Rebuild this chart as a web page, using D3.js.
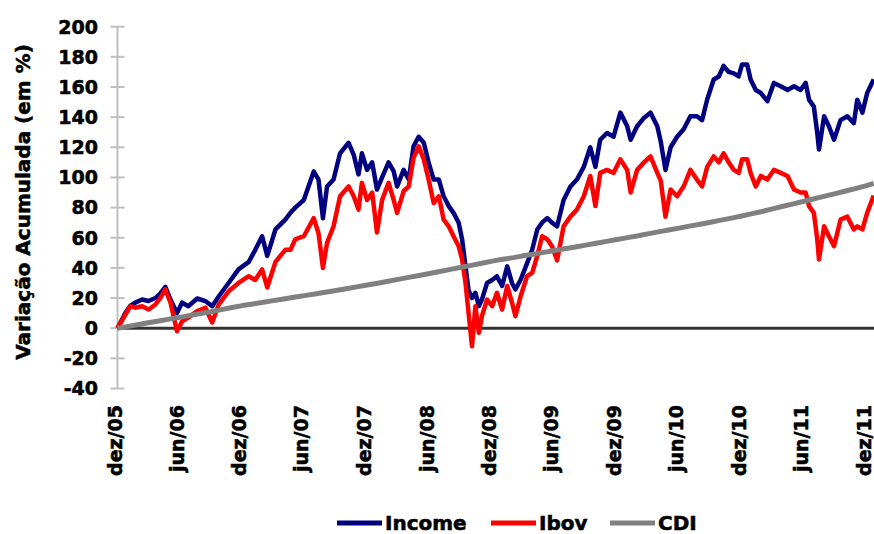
<!DOCTYPE html>
<html>
<head>
<meta charset="utf-8">
<script src="https://cdn.jsdelivr.net/npm/d3@7"></script>
<style>
  body { margin: 0; background: #fff; }
  svg text { font-family: "DejaVu Sans", Verdana, sans-serif; font-weight: bold; fill: #000; stroke: #000; stroke-width: 0.55px; }
</style>
</head>
<body>
<div id="chart"></div>
<script>
// datas das observações (Income e Ibov)
var datas = [
  "2005-12-01","2005-12-24","2006-01-08","2006-01-22","2006-02-11","2006-03-02","2006-03-22","2006-04-05",
  "2006-04-20","2006-05-05","2006-05-24","2006-06-08","2006-06-26","2006-07-22","2006-08-15","2006-09-04",
  "2006-09-23","2006-10-22","2006-11-20","2006-12-20","2007-01-08","2007-01-28","2007-02-12","2007-03-08",
  "2007-04-06","2007-04-21","2007-05-05","2007-05-30","2007-06-28","2007-07-12","2007-07-25","2007-08-06",
  "2007-08-25","2007-09-13","2007-10-08","2007-10-23","2007-11-06","2007-11-16","2007-12-01","2007-12-16",
  "2007-12-30","2008-01-14","2008-02-02","2008-02-17","2008-02-27","2008-03-17","2008-04-01","2008-04-15",
  "2008-04-30","2008-05-15","2008-05-29","2008-06-13","2008-06-28","2008-07-12","2008-07-27","2008-08-10",
  "2008-08-25","2008-09-04","2008-09-14","2008-09-23","2008-10-03","2008-10-13","2008-10-23","2008-11-01",
  "2008-11-16","2008-12-01","2008-12-15","2008-12-30","2009-01-14","2009-01-28","2009-02-07","2009-02-22",
  "2009-03-13","2009-03-28","2009-04-12","2009-04-26","2009-05-11","2009-05-25","2009-06-09","2009-06-28",
  "2009-07-18","2009-08-06","2009-08-26","2009-09-14","2009-09-29","2009-10-13","2009-11-02","2009-11-21",
  "2009-12-11","2009-12-31","2010-01-10","2010-01-29","2010-02-18","2010-03-09","2010-03-29","2010-04-08",
  "2010-04-22","2010-05-07","2010-05-26","2010-06-14","2010-07-04","2010-07-23","2010-08-07","2010-08-22",
  "2010-09-10","2010-09-25","2010-10-09","2010-10-24","2010-11-08","2010-11-22","2010-12-02","2010-12-17",
  "2010-12-27","2011-01-11","2011-01-26","2011-02-14","2011-03-05","2011-03-25","2011-04-14","2011-05-03",
  "2011-05-22","2011-06-06","2011-06-16","2011-06-30","2011-07-10","2011-07-15","2011-07-30","2011-08-13",
  "2011-08-28","2011-09-16","2011-10-06","2011-10-25","2011-11-04","2011-11-19","2011-12-03","2011-12-22"
];

var income = [
  0, 10, 15, 17, 19, 18, 20, 23,
  27.4, 19, 10, 17, 14.6, 19.7, 18, 14.6,
  21, 30, 39, 44, 52, 61, 48, 65.5,
  72, 76.6, 80, 85, 104, 98.6, 73, 94,
  98.6, 116, 123, 115, 102, 116, 105, 110,
  92, 100, 110, 104, 94, 105, 98.6, 120.7,
  127, 123, 110, 98.6, 98.6, 87.5, 81, 76.5,
  70, 59, 41, 25, 20, 23.5, 14.6, 19,
  30, 32, 34.5, 28, 41, 30, 25.7, 32,
  43, 52, 65.5, 70, 73, 70, 67.6, 85,
  94, 98.6, 107, 120, 107, 125, 129.5, 127,
  143, 134, 125, 134, 139.5, 143, 134, 124,
  105, 120, 127, 132, 140.6, 140.6, 138, 151.7,
  165, 167, 174, 170, 169, 167, 175, 175,
  165, 158, 156, 150.6, 162.7, 160.5, 158, 160.5,
  158, 162.7, 151.6, 147, 129.5, 118.5, 140.6, 134,
  125, 138, 140.6, 136, 151.6, 143, 156, 165
];

var ibov = [
  0, 9, 14.6, 13.6, 14.6, 12.4, 15.7, 20,
  25.7, 17, -2, 4.6, 7, 11.3, 13.6, 3.8,
  15.7, 24.5, 30, 34.5, 32, 39, 27, 44,
  52, 52, 59, 61, 73, 63, 40, 56.6,
  67.6, 87.5, 94, 87.5, 78.7, 96.4, 85, 90,
  63.5, 85, 96.4, 85, 76.5, 91, 94, 113,
  120.7, 112, 98.6, 83, 87.5, 72, 67.6, 61,
  54.4, 45.6, 30, 10, -12, 14.6, -3, 8,
  19, 14.6, 23.5, 12.4, 28, 17, 8, 21,
  34.5, 36.7, 48, 61, 59, 54.4, 45, 67.6,
  74, 78.7, 87.5, 101, 81, 103, 105, 103,
  112, 105, 90, 105, 110, 114, 103, 98,
  74, 92, 87.5, 94, 105, 98.6, 94, 107,
  114, 110, 116, 110, 105, 103, 112, 112,
  103, 94, 101, 98.6, 105, 103, 101, 92,
  90, 90, 81, 76.5, 59, 45.6, 67.6, 61,
  54.4, 72, 74, 65.5, 67.6, 65.5, 76.5, 88
];

// CDI: valor no início de cada mês, dez/05 .. dez/11, e último ponto
var cdi = [
  0, 1.2, 2.4, 3.6, 4.8, 6.0, 7.2, 8.5, 9.8, 11.0, 12.3, 13.7,
  15.0, 16.1, 17.2, 18.3, 19.4, 20.5, 21.6, 22.7, 23.9, 25.0, 26.2, 27.4,
  28.6, 29.8, 31.1, 32.4, 33.7, 35.0, 36.3, 37.6, 39.0, 40.4, 41.7, 43.1,
  44.5, 45.7, 46.8, 48.0, 49.1, 50.3, 51.5, 52.7, 53.9, 55.1, 56.4, 57.6,
  58.8, 60.1, 61.3, 62.6, 63.9, 65.1, 66.4, 67.7, 69.0, 70.3, 71.7, 73.0,
  74.4, 76.0, 77.6, 79.2, 80.9, 82.5, 84.2, 85.9, 87.6, 89.3, 91.0, 92.8,
  94.6, 96.0
];

var tickLabels = ["dez/05","jun/06","dez/06","jun/07","dez/07","jun/08","dez/08",
                  "jun/09","dez/09","jun/10","dez/10","jun/11","dez/11"];
var yTicks = [-40, -20, 0, 20, 40, 60, 80, 100, 120, 140, 160, 180, 200];

var series = [
  { name: "Income", color: "#000080", values: income },
  { name: "Ibov",   color: "#ff0000", values: ibov },
  { name: "CDI",    color: "#808080", values: cdi }
];

var W = 874, H = 534;
var parse = d3.timeParse("%Y-%m-%d");
var start = parse("2005-12-01");
var tickDates = tickLabels.map((l, i) => d3.timeMonth.offset(start, 6 * i));
var cdiDates = d3.timeMonth.range(start, d3.timeDay.offset(parse("2011-12-01"), 1)).concat([parse("2011-12-22")]);
var obsDates = datas.map(parse);

var x = d3.scaleTime()
    .domain([start, parse("2011-12-01")])
    .range([117.5, 866.5]);
var y = d3.scaleLinear()
    .domain([-40, 200])
    .range([388.5, 26.7]);

var svg = d3.select("#chart").append("svg")
    .attr("width", W)
    .attr("height", H);

svg.append("rect").attr("width", W).attr("height", H).attr("fill", "#fff");

// eixo Y
var yAxis = svg.append("g");
yAxis.append("line")
    .attr("x1", x(start)).attr("x2", x(start))
    .attr("y1", y(-40)).attr("y2", y(200))
    .attr("stroke", "#bfbfbf").attr("stroke-width", 2);
yAxis.selectAll(".tk").data(yTicks).enter().append("line")
    .attr("x1", x(start) - 7).attr("x2", x(start) + 7)
    .attr("y1", d => y(d)).attr("y2", d => y(d))
    .attr("stroke", "#bfbfbf").attr("stroke-width", 2);
yAxis.selectAll(".lb").data(yTicks).enter().append("text")
    .attr("x", 98)
    .attr("y", d => y(d))
    .attr("dy", "0.36em")
    .attr("text-anchor", "end")
    .style("font-size", "19px")
    .text(d => d);

svg.append("text")
    .attr("transform", "translate(30," + 202 + ") rotate(-90)")
    .attr("text-anchor", "middle")
    .style("font-size", "20px")
    .text("Variação Acumulada (em %)");

// linha do zero
svg.append("line")
    .attr("x1", x(start)).attr("x2", W)
    .attr("y1", y(0)).attr("y2", y(0))
    .attr("stroke", "#333").attr("stroke-width", 3);

// rótulos do eixo X
svg.selectAll(".xl").data(tickDates).enter().append("text")
    .attr("transform", d => "translate(" + (x(d) + 4) + ",405) rotate(-90)")
    .attr("text-anchor", "end")
    .style("font-size", "19px")
    .text((d, i) => tickLabels[i]);

// séries
var line = d3.line()
    .x(d => x(d[0]))
    .y(d => y(d[1]));

series.forEach(function(s) {
  var dts = s.name === "CDI" ? cdiDates : obsDates;
  var pts = s.values.map((v, i) => [dts[i], v]);
  svg.append("path")
      .datum(pts)
      .attr("fill", "none")
      .attr("stroke", s.color)
      .attr("stroke-width", s.name === "CDI" ? 5 : 4.5)
      .attr("stroke-linejoin", "round")
      .attr("d", line);
});

// legenda
var legX = [337, 491, 610];
var leg = svg.selectAll(".leg").data(series).enter().append("g")
    .attr("transform", (d, i) => "translate(" + legX[i] + ",523)");
leg.append("line")
    .attr("x1", 0).attr("x2", 45)
    .attr("stroke", d => d.color)
    .attr("stroke-width", 5);
leg.append("text")
    .attr("x", 48)
    .attr("dy", "0.36em")
    .style("font-size", "20px")
    .text(d => d.name);
</script>
</body>
</html>
